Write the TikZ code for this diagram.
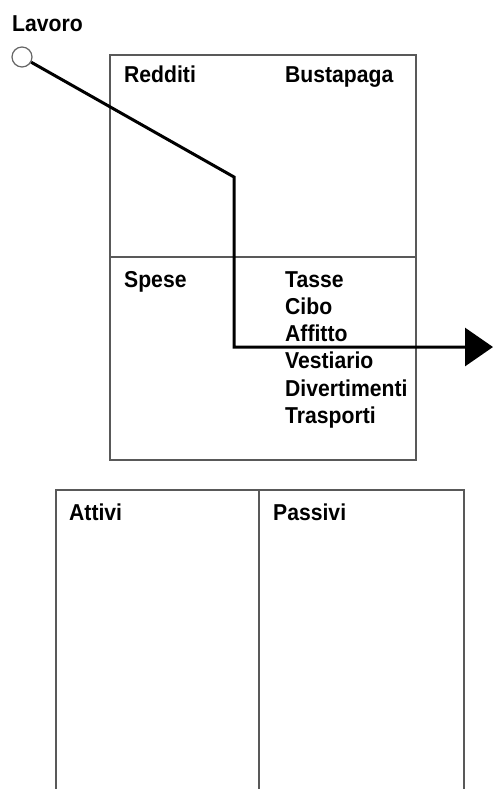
\documentclass[tikz,border=0pt]{standalone}
\usepackage{fontspec}
\setmainfont[FakeStretch=0.92]{Liberation Sans}
\usetikzlibrary{arrows.meta}

\tikzset{
  label/.style={anchor=base west, inner sep=0pt, font=\fontsize{23}{27}\selectfont\bfseries},
  frame/.style={draw=black!65, line width=1.3pt},
  flow/.style={line width=3pt, -{Triangle[length=28pt,width=38pt]}}
}

\begin{document}
\begin{tikzpicture}[x=1pt,y=-1pt]
        \useasboundingbox (0,0) rectangle (493,789);

        % conto economico
        \draw[frame] (110,55) rectangle (416,460);
        \draw[frame] (110,257) -- (416,257);
        \node[label] (redditi) at (124,83) {Redditi};
        \node[label] (busta) at (285,83) {Bustapaga};
        \node[label] (spese) at (124,287) {Spese};
        \foreach \voce [count=\i from 0] in {Tasse,Cibo,Affitto,Vestiario,Divertimenti,Trasporti}
            \node[label] (voce\i) at (285,287+27.3*\i) {\voce};

        % stato patrimoniale
        \draw[frame] (56,795) -- (56,490) -- (464,490) -- (464,795);
        \draw[frame] (259,490) -- (259,795);
        \node[label] (attivi) at (69,520) {Attivi};
        \node[label] (passivi) at (273,520) {Passivi};

        % flusso del lavoro
        \node[label] (lavorotxt) at (12,32) {Lavoro};
        \node[circle, draw=black!60, line width=1.2pt, fill=white, minimum size=20pt, inner sep=0pt] (lavoro) at (22,57) {};
        \coordinate (gomito) at (234,177);
        \coordinate (uscita) at (493,347);
        \draw[flow] (lavoro) -- (gomito) |- (uscita);

\end{tikzpicture}
\end{document}
